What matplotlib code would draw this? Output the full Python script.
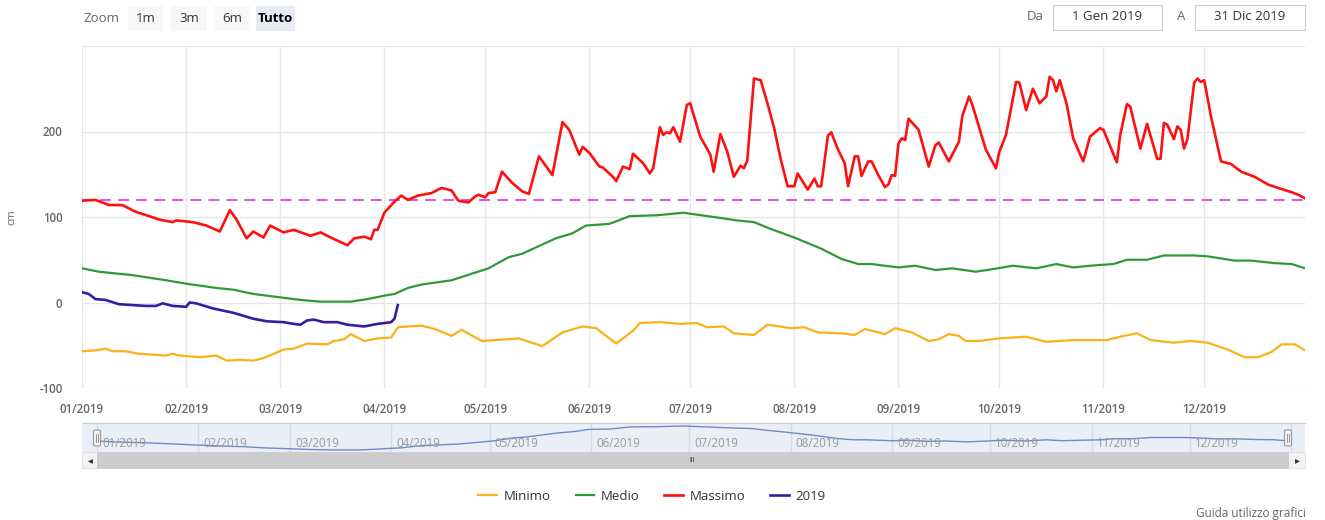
import numpy as np
import pandas as pd
import matplotlib
matplotlib.use("Agg")
import matplotlib.pyplot as plt
import matplotlib.dates as mdates
from matplotlib.patches import Rectangle, FancyBboxPatch
from matplotlib.lines import Line2D

plt.rcParams['font.family'] = ['Open Sans', 'DejaVu Sans']

# ---- data (day of year 2019, cm) ----
max_days = [0, 4, 8, 12, 16, 20, 23, 27, 28, 33, 37, 41, 44, 46, 49, 51, 54, 56, 60, 63,
            68, 71, 74, 79, 81, 84, 86, 87, 88, 90, 93, 95, 97, 100, 104, 107, 110, 112, 115, 117,
            118, 120, 121, 123, 125, 128, 131, 133, 136, 140, 143, 145, 148, 149, 151, 154, 155, 158, 159, 161,
            163, 164, 167, 169, 170, 172, 173, 174, 175, 176, 178, 180, 181, 184, 187, 188, 190, 192, 194, 196,
            197, 198, 200, 202, 204, 206, 208, 210, 212, 213, 216, 218, 219, 220, 222, 223, 225, 227, 228, 230,
            231, 232, 234, 235, 237, 239, 240, 241, 242, 243, 244, 245, 246, 249, 252, 254, 255, 258, 261, 262,
            264, 265, 269, 272, 273, 275, 278, 279, 281, 283, 285, 287, 288, 289, 290, 291, 293, 295, 298, 300,
            303, 304, 308, 309, 311, 312, 315, 317, 320, 321, 322, 323, 325, 326, 327, 328, 329, 331, 332, 333,
            334, 336, 339, 342, 345, 349, 353, 356, 360, 362, 364]
massimo = [119, 120, 114, 114, 106, 101, 97, 94, 96, 94, 90, 83, 108, 97, 75, 83, 76, 90, 82, 85,
           78, 82, 76, 67, 75, 77, 74, 85, 85, 105, 118, 125, 120, 125, 128, 134, 131, 119, 117, 124,
           126, 123, 128, 129, 153, 140, 130, 127, 171, 149, 211, 202, 173, 182, 175, 159, 158, 147, 142, 159,
           156, 174, 163, 151, 157, 205, 196, 199, 198, 205, 188, 231, 233, 194, 173, 153, 197, 177, 147, 160,
           157, 166, 262, 260, 233, 204, 167, 136, 136, 151, 132, 145, 136, 136, 195, 199, 179, 163, 136, 171,
           171, 148, 165, 165, 149, 135, 138, 149, 148, 186, 192, 190, 215, 202, 159, 184, 187, 165, 188, 218,
           241, 231, 179, 157, 176, 196, 258, 257, 225, 250, 233, 241, 264, 260, 247, 260, 233, 192, 165, 194,
           204, 202, 164, 196, 232, 229, 180, 209, 168, 168, 210, 208, 191, 206, 202, 180, 191, 257, 262, 258,
           260, 218, 165, 162, 153, 147, 138, 134, 129, 126, 122]

med_days = [0, 5, 15, 25, 31, 40, 45, 51, 59, 65, 71, 80, 85, 90, 93, 97, 101, 110, 121, 127,
            131, 136, 141, 146, 150, 157, 163, 171, 179, 188, 195, 200, 205, 212, 220, 226, 231, 235, 243, 248,
            254, 259, 266, 271, 277, 284, 290, 295, 300, 307, 311, 317, 322, 331, 335, 343, 348, 355, 360, 364]
medio = [40, 36, 32, 26, 22, 17, 15, 10, 6, 3, 1, 1, 4, 8, 10, 17, 21, 26, 40, 53,
         57, 66, 75, 81, 90, 92, 101, 102, 105, 100, 96, 94, 86, 76, 63, 51, 45, 45, 41, 43,
         38, 40, 36, 39, 43, 40, 45, 41, 43, 45, 50, 50, 55, 55, 54, 49, 49, 46, 45, 40]

min_days = [0, 4, 7, 9, 13, 17, 25, 27, 29, 35, 40, 43, 47, 51, 54, 57, 60, 63, 67, 73,
            75, 78, 80, 84, 88, 92, 94, 97, 101, 105, 110, 113, 119, 123, 130, 137, 143, 149, 153, 159,
            164, 166, 172, 178, 183, 186, 191, 194, 200, 204, 211, 215, 219, 226, 230, 233, 235, 239, 242, 247,
            252, 255, 258, 261, 263, 267, 273, 281, 287, 295, 305, 309, 314, 318, 325, 330, 335, 341, 346, 350,
            354, 357, 361, 364]
minimo = [-57, -56, -54, -57, -57, -60, -62, -60, -62, -64, -62, -68, -67, -68, -65, -60, -55, -54, -48, -49,
          -45, -43, -37, -45, -42, -41, -29, -28, -27, -31, -39, -32, -45, -44, -42, -51, -35, -28, -30, -48,
          -33, -24, -23, -25, -24, -29, -28, -36, -38, -26, -30, -29, -35, -36, -38, -31, -33, -37, -30, -35,
          -45, -43, -37, -39, -45, -45, -42, -40, -46, -44, -44, -40, -36, -44, -47, -45, -47, -55, -64, -64,
          -58, -49, -49, -56]

cur_days = [0, 2, 4, 7, 11, 15, 19, 22, 24, 27, 31, 32, 34, 39, 45, 51, 55, 60, 63, 65,
            67, 69, 72, 76, 79, 84, 88, 92, 93, 94]
anno_2019 = [12, 10, 4, 3, -2, -3, -4, -4, -1, -4, -5, 0, -1, -7, -12, -19, -22, -23, -25, -26,
             -21, -20, -23, -23, -26, -28, -25, -23, -19, -3]

soglia = 120
month_labels = ['01/2019', '02/2019', '03/2019', '04/2019', '05/2019', '06/2019',
                '07/2019', '08/2019', '09/2019', '10/2019', '11/2019', '12/2019']

start = pd.Timestamp('2019-01-01')
end = pd.Timestamp('2019-12-31')


def to_dates(days):
    return start + pd.to_timedelta(np.array(days), unit='D')


W, H = 1325, 520


def box(l, t, r, b):
    return [l / W, 1 - b / H, (r - l) / W, (b - t) / H]


def fx(x):
    return x / W


def fy(y):
    return 1 - y / H


fig = plt.figure(figsize=(W / 100, H / 100), dpi=100)
fig.patch.set_facecolor('white')

# ---- main chart ----
ax = fig.add_axes(box(82, 46, 1305, 388))
ax.plot(to_dates(min_days), minimo, color='#fbb117', lw=1.6, label='Minimo')
ax.plot(to_dates(med_days), medio, color='#2f9a35', lw=1.6, label='Medio')
ax.plot(to_dates(max_days), massimo, color='#ff1010', lw=1.9, label='Massimo')
ax.plot(to_dates(cur_days), anno_2019, color='#3a1aa0', lw=1.9, label='2019')
ax.axhline(soglia, color='#e040e8', lw=1.3, ls=(0, (6, 4)), zorder=1)

ax.set_xlim(start, end)
ax.set_ylim(-100, 300)
ax.set_yticks([-100, 0, 100, 200, 300])
ax.set_yticklabels(['-100', '0', '100', '200', ''])
ax.xaxis.set_major_locator(mdates.MonthLocator())
ax.xaxis.set_major_formatter(mdates.DateFormatter('%m/%Y'))
ax.grid(True, color='#e6e6e6', lw=1)
ax.set_axisbelow(True)
for s in ax.spines.values():
    s.set_visible(False)
ax.tick_params(length=0, colors='#666666', labelsize=8.3)
ax.tick_params(axis='x', pad=11)
ax.tick_params(axis='y', pad=14)
for lab in ax.get_xticklabels() + ax.get_yticklabels():
    lab.set_fontweight('semibold')
ax.set_ylabel('cm', color='#666666', fontsize=8, labelpad=16)

# ---- navigator ----
nav = fig.add_axes(box(82, 423, 1305, 452))
pxd = (1288 - 97) / 364.0
nav_left = start - pd.Timedelta(days=(97 - 82) / pxd)
nav_right = end + pd.Timedelta(days=(1305 - 1288) / pxd)
nav.set_facecolor('#e9eef7')
nav.plot(to_dates(med_days), medio, color='#6b8cc7', lw=1.0)
nav.set_xlim(nav_left, nav_right)
nav.set_ylim(-8, 118)
nav.xaxis.set_major_locator(mdates.MonthLocator())
nav.grid(True, axis='x', color='#d4dbe8', lw=1)
nav.set_axisbelow(True)
nav.set_xticklabels([])
nav.set_yticks([])
nav.tick_params(length=0)
for s in nav.spines.values():
    s.set_visible(False)
nav.spines['top'].set_visible(True)
nav.spines['top'].set_color('#cccccc')
for i, m in enumerate(pd.date_range('2019-01-01', periods=12, freq='MS')):
    nav.text(m + pd.Timedelta(days=1.5), 0.3, month_labels[i], transform=nav.get_xaxis_transform(),
             fontsize=8.3, color='#999999', ha='left', va='center')
for hx in (97, 1288):
    fig.patches.append(FancyBboxPatch((fx(hx - 3.5), fy(446)), 7 / W, 16 / H,
                                      boxstyle='round,pad=0,rounding_size=0.002',
                                      transform=fig.transFigure, fc='#f2f2f2', ec='#999999', lw=0.8))
    for dx in (-1.2, 1.2):
        fig.lines.append(Line2D([fx(hx + dx)] * 2, [fy(442), fy(434)], transform=fig.transFigure,
                                color='#999999', lw=0.7))

# ---- scrollbar ----
fig.patches.append(Rectangle((fx(82), fy(468)), 1223 / W, 16 / H, transform=fig.transFigure,
                             fc='#f2f2f2', ec='#dddddd', lw=0.6))
fig.patches.append(Rectangle((fx(97), fy(468)), (1288 - 97) / W, 16 / H, transform=fig.transFigure,
                             fc='#cccccc', ec='#cccccc', lw=0.6))
fig.text(fx(90), fy(460), '◂', fontsize=7, color='#333333', ha='center', va='center',
         family=['DejaVu Sans'])
fig.text(fx(1297), fy(460), '▸', fontsize=7, color='#333333', ha='center', va='center',
         family=['DejaVu Sans'])
fig.text(fx(692), fy(460), 'III', fontsize=5, color='#333333', ha='center', va='center')

# ---- range selector ----
fig.text(fx(83), fy(18), 'Zoom', fontsize=9.5, color='#666666', ha='left', va='center')
btns = [('1m', 128, 163, False), ('3m', 171, 207, False), ('6m', 214, 250, False), ('Tutto', 256, 295, True)]
for txt, l, r, sel in btns:
    fig.patches.append(Rectangle((fx(l), fy(31)), (r - l) / W, 25 / H, transform=fig.transFigure,
                                 fc='#e6ebf5' if sel else '#f7f7f7', ec='none'))
    fig.text(fx((l + r) / 2), fy(18), txt, fontsize=9.5, ha='center', va='center',
             color='#000000' if sel else '#333333', fontweight='bold' if sel else 'normal')

fig.text(fx(1035), fy(17), 'Da', fontsize=9.5, color='#666666', ha='center', va='center')
fig.text(fx(1181), fy(17), 'A', fontsize=9.5, color='#666666', ha='center', va='center')
for txt, l, r in [('1 Gen 2019', 1053, 1162), ('31 Dic 2019', 1195, 1305)]:
    fig.patches.append(Rectangle((fx(l), fy(30)), (r - l) / W, 25 / H, transform=fig.transFigure,
                                 fc='white', ec='#cccccc', lw=0.8))
    fig.text(fx((l + r) / 2), fy(17), txt, fontsize=9.5, color='#333333', ha='center', va='center')

# ---- legend ----
handles, labels = ax.get_legend_handles_labels()
leg = fig.legend(handles, labels, loc='center', bbox_to_anchor=(fx(652), fy(496)), ncol=4,
                 frameon=False, fontsize=9.5, handlelength=1.4, handletextpad=0.5, columnspacing=1.9)
for t in leg.get_texts():
    t.set_color('#333333')

fig.text(fx(1306), fy(514), 'Guida utilizzo grafici', fontsize=8.5, color='#666666', ha='right', va='center')

fig.savefig('out.png', dpi=100)
